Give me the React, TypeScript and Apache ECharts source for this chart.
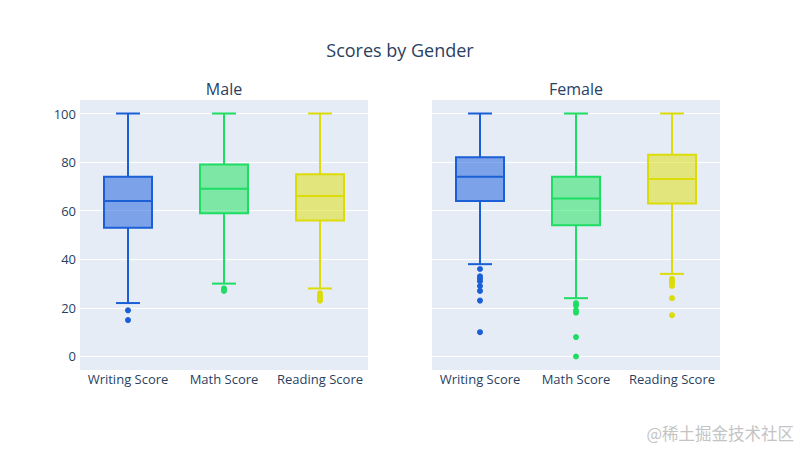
import React, { useEffect, useRef } from "react";
import * as echarts from "echarts";

const categories = ["Writing Score", "Math Score", "Reading Score"];
const colors = ["#1a5fd6", "#1fdc63", "#dcdc0a"];
const fills = ["rgba(19,90,220,0.5)", "rgba(21,228,84,0.5)", "rgba(223,222,0,0.5)"];
// [lowerWhisker, Q1, median, Q3, upperWhisker]
const maleBoxes = [
  [22, 53, 64, 74, 100],
  [30, 59, 69, 79, 100],
  [28, 56, 66, 75, 100],
];
const femaleBoxes = [
  [38, 64, 74, 82, 100],
  [24, 54, 65, 74, 100],
  [34, 63, 73, 83, 100],
];
const maleOutliers = [
  [15, 19],
  [27, 28],
  [23, 24, 25, 26],
];
const femaleOutliers = [
  [10, 23, 27, 29, 31, 32, 33, 36],
  [0, 8, 18, 19, 21, 22],
  [17, 24, 29, 30, 31, 32],
];
const yTicks = [0, 20, 40, 60, 80, 100];
const yMin = -5.56;
const yMax = 105.56;

const FONT = "'Open Sans', verdana, arial, sans-serif";
const TXT = "#2a3f5f";

function renderBox(params: any, api: any) {
  const cat = api.value(0);
  const lo = api.coord([cat, api.value(1)]);
  const q1 = api.coord([cat, api.value(2)]);
  const med = api.coord([cat, api.value(3)]);
  const q3 = api.coord([cat, api.value(4)]);
  const hi = api.coord([cat, api.value(5)]);
  const band = api.size([1, 0])[0];
  const bw = band * 0.5;
  const cw = bw * 0.5;
  const x = lo[0];
  const c = colors[cat];
  const f = fills[cat];
  const ls = { stroke: c, lineWidth: 2, fill: "none" };
  return {
    type: "group",
    children: [
      { type: "line", shape: { x1: x, y1: q3[1], x2: x, y2: hi[1] }, style: ls },
      { type: "line", shape: { x1: x, y1: q1[1], x2: x, y2: lo[1] }, style: ls },
      { type: "line", shape: { x1: x - cw / 2, y1: hi[1], x2: x + cw / 2, y2: hi[1] }, style: ls },
      { type: "line", shape: { x1: x - cw / 2, y1: lo[1], x2: x + cw / 2, y2: lo[1] }, style: ls },
      {
        type: "rect",
        shape: { x: x - bw / 2, y: q3[1], width: bw, height: q1[1] - q3[1] },
        style: { stroke: c, lineWidth: 2, fill: f },
      },
      { type: "line", shape: { x1: x - bw / 2, y1: med[1], x2: x + bw / 2, y2: med[1] }, style: ls },
    ],
  };
}

function boxData(boxes: number[][]) {
  return boxes.map((b, i) => [i, ...b]);
}

function outlierSeries(outs: number[][], axisIndex: number) {
  return outs.map((vals, i) => ({
    type: "scatter",
    xAxisIndex: axisIndex,
    yAxisIndex: axisIndex,
    symbolSize: 6,
    itemStyle: { color: colors[i], opacity: 1 },
    data: vals.map((v) => [i, v]),
    z: 3,
  }));
}

export default function App() {
  const ref = useRef<HTMLDivElement>(null);
  useEffect(() => {
    if (!ref.current) return;
    const chart = echarts.init(ref.current, null, { renderer: "svg" });
    const xAxis = (gi: number) => ({
      type: "category",
      gridIndex: gi,
      data: categories,
      boundaryGap: true,
      axisLine: { show: false },
      axisTick: { show: false },
      splitLine: { show: false },
      axisLabel: { color: TXT, fontSize: 13, fontFamily: FONT, margin: 2, interval: 0, hideOverlap: false },
    });
    const yAxis = (gi: number, showLabels: boolean) => ({
      type: "value",
      gridIndex: gi,
      min: yMin,
      max: yMax,
      axisLine: { show: false },
      axisTick: { show: false, customValues: yTicks },
      axisLabel: {
        show: showLabels,
        customValues: yTicks,
        color: TXT,
        fontSize: 13,
        fontFamily: FONT,
        margin: 4,
      },
      splitLine: { show: true, lineStyle: { color: "#ffffff", width: 1 } },
    });
    const titleStyle = (size: number) => ({ color: TXT, fontSize: size, fontWeight: "normal", fontFamily: FONT });
    chart.setOption({
      animation: false,
      backgroundColor: "#ffffff",
      title: [
        { text: "Scores by Gender", left: 400, top: 41, padding: 0, textAlign: "center", textStyle: titleStyle(18) },
        { text: "Male", left: 224, top: 81, padding: 0, textAlign: "center", textStyle: titleStyle(16) },
        { text: "Female", left: 576, top: 81, padding: 0, textAlign: "center", textStyle: titleStyle(16) },
      ],
      grid: [
        { left: 80, top: 100, width: 288, height: 270, show: true, backgroundColor: "#e5ecf6", borderWidth: 0 },
        { left: 432, top: 100, width: 288, height: 270, show: true, backgroundColor: "#e5ecf6", borderWidth: 0 },
      ],
      xAxis: [xAxis(0), xAxis(1)],
      yAxis: [yAxis(0, true), yAxis(1, false)],
      series: [
        {
          type: "custom",
          xAxisIndex: 0,
          yAxisIndex: 0,
          renderItem: renderBox,
          encode: { x: 0, y: [1, 2, 3, 4, 5] },
          data: boxData(maleBoxes),
          z: 2,
        },
        {
          type: "custom",
          xAxisIndex: 1,
          yAxisIndex: 1,
          renderItem: renderBox,
          encode: { x: 0, y: [1, 2, 3, 4, 5] },
          data: boxData(femaleBoxes),
          z: 2,
        },
        ...outlierSeries(maleOutliers, 0),
        ...outlierSeries(femaleOutliers, 1),
      ],
      graphic: [
        {
          type: "text",
          right: 6,
          top: 425,
          style: { text: "@稀土掘金技术社区", fill: "#c4c4c4", fontSize: 16.5, fontFamily: "'Noto Sans CJK SC', sans-serif" },
        },
      ],
    });
    return () => chart.dispose();
  }, []);
  return <div ref={ref} style={{ width: 800, height: 450, position: "absolute", left: 0, top: 0 }} />;
}
